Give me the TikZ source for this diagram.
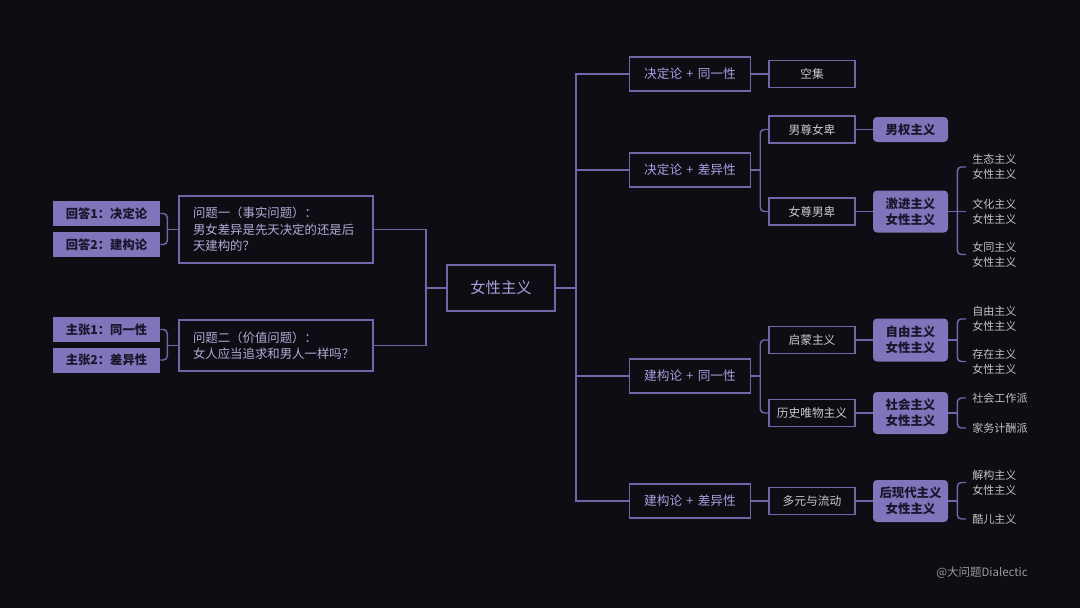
\documentclass[tikz,border=0pt]{standalone}
\usepackage{fontspec}
\setmainfont{Noto Sans CJK SC}
\definecolor{bg}{HTML}{0D0D13}
\definecolor{ln}{HTML}{6F67A8}
\definecolor{fl}{HTML}{7E75BA}
\definecolor{lav}{HTML}{A79FDF}
\definecolor{qtx}{HTML}{B3ABDB}
\definecolor{gr}{HTML}{CACACA}
\definecolor{lf}{HTML}{C2C2C2}
\definecolor{dk}{HTML}{17162A}
\definecolor{wm}{HTML}{9C9C9C}
\newcommand{\plusgap}{\hspace{3.2pt}+\hspace{3.2pt}}
\begin{document}
\begin{tikzpicture}[x=0.75pt,y=-0.75pt,
 conn/.style={draw=ln,line width=1.1pt},
 rc/.style={conn,rounded corners=3pt},
 obox/.style={draw=ln,line width=1.1pt,fill=bg,inner sep=0pt,align=center},
 lvlone/.style={obox,minimum width=90.75pt,minimum height=25.5pt,text=lav,font=\fontsize{9.5}{12}\selectfont},
 lvltwo/.style={obox,minimum width=64.5pt,minimum height=20pt,text=gr,font=\fontsize{8.8}{11}\selectfont},
 fbox/.style={fill=fl,rounded corners=3pt,inner sep=0pt,minimum width=56.25pt,text=dk,align=center,font=\fontsize{9.3}{11.8}\selectfont\bfseries},
 leaf/.style={anchor=west,inner xsep=4.5pt,inner ysep=0pt,text=lf,align=left,font=\fontsize{8.3}{11.2}\selectfont},
 abox/.style={fill=fl,inner sep=0pt,minimum width=80.25pt,minimum height=18.75pt,text=dk,font=\fontsize{9.2}{11}\selectfont\bfseries},
 qbox/.style={obox,minimum width=145.5pt,inner xsep=10.5pt,text width=124.5pt,align=left,text=qtx,font=\fontsize{9.3}{12.3}\selectfont}
]
\fill[bg] (0,0) rectangle (1080,608);

% center
\node[obox,line width=1.6pt,minimum width=81pt,minimum height=34.5pt,text=lav,font=\fontsize{11.5}{14}\selectfont] (c) at (501,288) {女性主义};

% left
\node[qbox,minimum height=50.25pt] (q1) at (276,229.5) {问题一（事实问题）：\\男女差异是先天决定的还是后\\天建构的？};
\node[qbox,minimum height=38.25pt] (q2) at (276,345.5) {问题二（价值问题）：\\女人应当追求和男人一样吗？};
\node[abox] (a1) at (106.5,213.5) {回答1：决定论};
\node[abox] (a2) at (106.5,244.5) {回答2：建构论};
\node[abox] (p1) at (106.5,329.5) {主张1：同一性};
\node[abox] (p2) at (106.5,360) {主张2：差异性};

\draw[conn] (c.west) -- ++(-20,0) coordinate (jl);
\draw[conn] (jl) |- (q1.east);
\draw[conn] (jl) |- (q2.east);
\draw[conn] (q1.west) -- ++(-11,0) coordinate (jq1);
\draw[rc] (jq1) |- (a1.east);
\draw[rc] (jq1) |- (a2.east);
\draw[conn] (q2.west) -- ++(-11,0) coordinate (jq2);
\draw[rc] (jq2) |- (p1.east);
\draw[rc] (jq2) |- (p2.east);

% right level 1
\node[lvlone] (b1) at (690,74) {决定论\plusgap 同一性};
\node[lvlone] (b2) at (690,170) {决定论\plusgap 差异性};
\node[lvlone] (b3) at (690,376) {建构论\plusgap 同一性};
\node[lvlone] (b4) at (690,501) {建构论\plusgap 差异性};

\draw[conn] (c.east) -- (576,288) coordinate (jr);
\draw[conn] (jr) |- (b1.west);
\draw[conn] (jr) |- (b2.west);
\draw[conn] (jr) |- (b3.west);
\draw[conn] (jr) |- (b4.west);

% level 2
\node[lvltwo] (k1) at (812,74) {空集};
\node[lvltwo] (k2) at (812,129.5) {男尊女卑};
\node[lvltwo] (k3) at (812,211.5) {女尊男卑};
\node[lvltwo] (k4) at (812,340) {启蒙主义};
\node[lvltwo] (k5) at (812,413) {历史唯物主义};
\node[lvltwo] (k6) at (812,501) {多元与流动};

\draw[conn] (b1.east) -- (k1.west);
\draw[conn] (b2.east) -- ++(9,0) coordinate (jb2);
\draw[rc] (jb2) |- (k2.west);
\draw[rc] (jb2) |- (k3.west);
\draw[conn] (b3.east) -- ++(9,0) coordinate (jb3);
\draw[rc] (jb3) |- (k4.west);
\draw[rc] (jb3) |- (k5.west);
\draw[conn] (b4.east) -- (k6.west);

% level 3
\node[fbox,minimum height=18.75pt] (f1) at (910.5,129.5) {男权主义};
\node[fbox,minimum height=31.5pt] (f2) at (910.5,211.5) {激进主义\\女性主义};
\node[fbox,minimum height=32.25pt] (f3) at (910.5,340) {自由主义\\女性主义};
\node[fbox,minimum height=31.5pt] (f4) at (910.5,413) {社会主义\\女性主义};
\node[fbox,minimum height=31.5pt] (f5) at (910.5,501) {后现代主义\\女性主义};

\draw[conn] (k2.east) -- (f1.west);
\draw[conn] (k3.east) -- (f2.west);
\draw[conn] (k4.east) -- (f3.west);
\draw[conn] (k5.east) -- (f4.west);
\draw[conn] (k6.east) -- (f5.west);

% leaves
\node[leaf] (l1) at (966,167) {生态主义\\女性主义};
\node[leaf] (l2) at (966,211.5) {文化主义\\女性主义};
\node[leaf] (l3) at (966,254.5) {女同主义\\女性主义};
\node[leaf] (l4) at (966,319) {自由主义\\女性主义};
\node[leaf] (l5) at (966,361.5) {存在主义\\女性主义};
\node[leaf] (l6) at (966,398) {社会工作派};
\node[leaf] (l7) at (966,428) {家务计酬派};
\node[leaf] (l8) at (966,482.5) {解构主义\\女性主义};
\node[leaf] (l9) at (966,519) {酷儿主义};

\draw[conn] (f2.east) -- (l2.west);
\draw[conn] (f2.east) -- ++(9,0) coordinate (jf2);
\draw[rc] (jf2) |- (l1.west);
\draw[rc] (jf2) |- (l3.west);
\draw[conn] (f3.east) -- ++(9,0) coordinate (jf3);
\draw[rc] (jf3) |- (l4.west);
\draw[rc] (jf3) |- (l5.west);
\draw[conn] (f4.east) -- ++(9,0) coordinate (jf4);
\draw[rc] (jf4) |- (l6.west);
\draw[rc] (jf4) |- (l7.west);
\draw[conn] (f5.east) -- ++(9,0) coordinate (jf5);
\draw[rc] (jf5) |- (l8.west);
\draw[rc] (jf5) |- (l9.west);

% watermark
\node[anchor=west,inner sep=0pt,text=wm,font=\fontsize{8.6}{10}\selectfont] (wm) at (936,573) {@大问题Dialectic};
\end{tikzpicture}
\end{document}
